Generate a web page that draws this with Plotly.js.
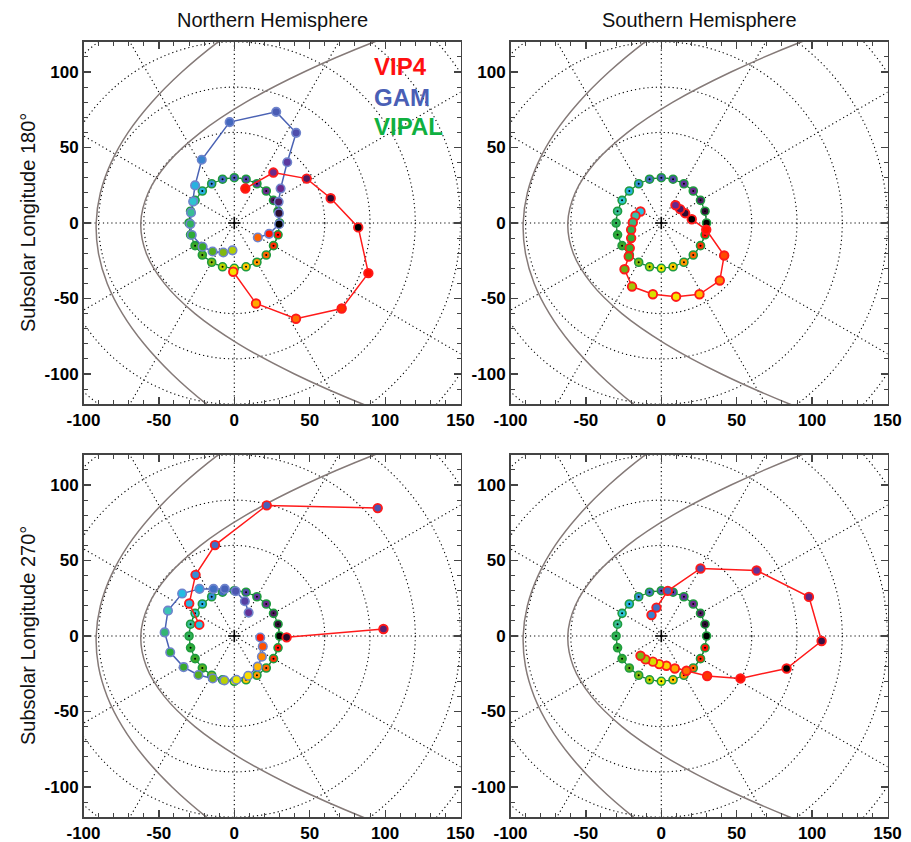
<!DOCTYPE html>
<html><head><meta charset="utf-8">
<script src="https://cdn.plot.ly/plotly-3.0.1.min.js"></script>
<style>html,body{margin:0;padding:0;background:#fff}#plot{width:911px;height:842px}</style>
</head><body><div id="plot"></div>
<script>
// ---------------- DATA ----------------
// VIPAL footprint ring (same ring in all four panels)
const vipalX   = [30, 29, 26, 21.2, 15, 7.8, 0, -7.8, -15, -21.2, -26, -29, -30, -29, -26, -21.2, -15, -7.8, 0, 7.8, 15, 21.2, 26, 29];
const vipalY   = [0, 7.8, 15, 21.2, 26, 29, 30, 29, 26, 21.2, 15, 7.8, 0, -7.8, -15, -21.2, -26, -29, -30, -29, -26, -21.2, -15, -7.8];
const vipalLon = [0, 15, 30, 45, 60, 75, 90, 105, 120, 135, 150, 165, 180, 195, 210, 225, 240, 255, 270, 285, 300, 315, 330, 345];

// Northern hemisphere, subsolar longitude 180
const n180Vip4X   = [7.3, 25.9, 48.0, 63.9, 82.2, 88.9, 71.2, 40.9, 14.4, -0.7];
const n180Vip4Y   = [22.8, 33.4, 29.4, 16.4, -2.9, -33.2, -56.6, -63.4, -53.3, -32.3];
const n180Vip4Lon = [340, 45, 30, 15, 0, 345, 330, 312, 295, 275];
const n180GamX    = [15.6, 23.1, 29.7, 29.6, 29.4, 30.7, 35.1, 41.0, 27.8, -3.1, -21.6, -26.0, -27.3, -28.7, -29.1, -28.2, -21.0, -14.4, -7.3, -1.2];
const n180GamY    = [-9.6, -7.2, -0.8, 6.5, 14.0, 22.8, 40.2, 59.7, 73.6, 66.8, 41.9, 24.9, 14.2, 6.8, -0.7, -7.9, -15.7, -18.9, -19.5, -18.1];
const n180GamLon  = [315, 340, 0, 15, 30, 45, 65, 80, 90, 100, 115, 135, 150, 165, 178, 192, 210, 225, 240, 252];

// Southern hemisphere, subsolar longitude 180
const s180Vip4X   = [-13.8, -17.1, -18.9, -20.0, -20.0, -20.9, -21.6, -24.4, -19.4, -5.6, 9.8, 25.3, 38.8, 41.7, 29.8, 20.2, 15.8, 12.5, 9.4];
const s180Vip4Y   = [7.6, 4.8, 0.3, -4.5, -10.0, -16.6, -22.2, -30.6, -42.1, -47.2, -48.8, -47.2, -38.1, -21.5, -4.5, 2.5, 6.5, 9.2, 11.8];
const s180Vip4Lon = [145, 160, 170, 182, 195, 208, 220, 232, 248, 262, 272, 288, 305, 322, 342, 0, 15, 30, 45];

// Northern hemisphere, subsolar longitude 270
const n270Vip4X   = [-23.2, -29.9, -25.7, -12.8, 21.5, 95.1, null, 98.9, 34.7];
const n270Vip4Y   = [7.5, 21.5, 40.5, 60.2, 86.5, 84.7, null, 4.6, -0.9];
const n270Vip4Lon = [145, 135, 120, 105, 95, 85, null, 35, 12];
const n270GamX    = [9.5, 7.0, 0.9, -6.3, -13.8, -23.1, -34.6, -44.0, -46.2, -42.5, -33.6, -23.8, -14.3, -6.6, 1.4, 9.2, 15.5, 18.3, 18.9, 17.2];
const n270GamY    = [15.5, 23.0, 29.6, 31.2, 31.2, 31.2, 28.1, 16.8, 2.4, -10.8, -20.6, -25.8, -28.1, -29.4, -29.0, -26.3, -20.3, -13.7, -6.9, -1.0];
const n270GamLon  = [55, 70, 85, 95, 105, 128, 140, 158, 172, 190, 208, 224, 238, 254, 266, 276, 290, 305, 320, 340];

// Southern hemisphere, subsolar longitude 270
const s270Vip4X   = [-6.5, -3.2, 4.3, 26.0, 63.2, 97.9, 106.3, 83.1, 52.5, 30.4, 16.7, 9.0, 3.4, -1.4, -5.6, -10.5, -13.8];
const s270Vip4Y   = [13.9, 18.8, 29.9, 44.7, 43.4, 25.9, -3.3, -21.5, -28.1, -26.5, -23.0, -21.5, -19.7, -18.6, -17.0, -15.5, -13.1];
const s270Vip4Lon = [115, 105, 95, 75, 55, 40, 20, 0, 345, 328, 312, 295, 280, 270, 262, 250, 238];

// Boundary curves (outer and inner)
const curveY  = [-140, -120, -100, -80, -60, -40, -20, 0, 20, 40, 60, 80, 100, 120, 140];
const outerX  = [8.8, -18.4, -41.3, -59.9, -74.2, -84.3, -90.1, -91.6, -88.8, -81.7, -70.4, -54.7, -34.8, -10.7, 17.8];
const innerX  = [139.4, 85.4, 39.9, 2.7, -26.1, -46.4, -58.4, -62.0, -57.1, -43.9, -22.3, 7.7, 46.2, 93.0, 148.2];

// Grid and ticks
const gridRadii  = [30, 60, 90, 120, 150, 180];
const gridAngles = [0, 30, 60, 90, 120, 150, 180, 210, 240, 270, 300, 330];
const xTicks = [-100, -50, 0, 50, 100, 150];
const xTickText = ['-100', '-50', '0', '50', '100', '150'];
const yTicks = [-100, -50, 0, 50, 100];
const yTickText = ['-100', '-50', '0', '50', '100'];

// ---------------- STYLE ----------------
const lonScale = [[0,'#000000'],[0.04,'#2c0c30'],[0.08,'#4c1a5e'],[0.125,'#6a2a8c'],[0.17,'#60349c'],[0.21,'#5048a8'],
  [0.25,'#4a5cb4'],[0.30,'#3f72c6'],[0.35,'#2f9edc'],[0.40,'#22c4e4'],[0.44,'#3cc4b4'],[0.48,'#34b470'],[0.52,'#2aac3c'],
  [0.60,'#3ea824'],[0.66,'#78b414'],[0.71,'#c0d400'],[0.75,'#f4ec00'],[0.79,'#ffc800'],[0.83,'#ff9c00'],[0.875,'#ff6400'],
  [0.92,'#ff2800'],[0.96,'#ff0c00'],[1,'#e00000']];

const RED = '#ff1a1a', BLUE = '#4a62b4', GREEN = '#1f9c3f', CURVE = '#857a78';

const panels = [
  {xa:'x',  ya:'y',  vip4:[n180Vip4X,n180Vip4Y,n180Vip4Lon], gam:[n180GamX,n180GamY,n180GamLon]},
  {xa:'x2', ya:'y2', vip4:[s180Vip4X,s180Vip4Y,s180Vip4Lon], gam:null},
  {xa:'x3', ya:'y3', vip4:[n270Vip4X,n270Vip4Y,n270Vip4Lon], gam:[n270GamX,n270GamY,n270GamLon]},
  {xa:'x4', ya:'y4', vip4:[s270Vip4X,s270Vip4Y,s270Vip4Lon], gam:null}
];

const traces = [];
const shapes = [];
const dotLine = {color:'#000', width:1.1, dash:'1.2px,3px'};

panels.forEach(p => {
  const xr = p.xa, yr = p.ya;
  gridRadii.forEach(r => shapes.push({type:'circle', xref:xr, yref:yr, x0:-r, x1:r, y0:-r, y1:r, line:dotLine, layer:'below'}));
  gridAngles.forEach(a => {
    const t = a*Math.PI/180;
    shapes.push({type:'line', xref:xr, yref:yr, x0:0, y0:0, x1:260*Math.cos(t), y1:260*Math.sin(t), line:dotLine, layer:'below'});
  });
  [outerX, innerX].forEach(cx => traces.push({type:'scatter', mode:'lines', x:cx, y:curveY, xaxis:xr, yaxis:yr,
    line:{color:CURVE, width:1.5, shape:'spline', smoothing:1}, hoverinfo:'skip', showlegend:false}));
  traces.push({type:'scatter', mode:'markers', x:[0], y:[0], xaxis:xr, yaxis:yr,
    marker:{symbol:'cross-thin', size:9, line:{color:'#000', width:1.6}}, showlegend:false});
  traces.push({type:'scatter', mode:'lines', x:vipalX.concat([vipalX[0]]), y:vipalY.concat([vipalY[0]]), xaxis:xr, yaxis:yr,
    line:{color:'#158a36', width:1.2}, showlegend:false});
  traces.push({type:'scatter', mode:'markers', x:vipalX, y:vipalY, xaxis:xr, yaxis:yr,
    marker:{size:8, color:vipalLon, colorscale:lonScale, cmin:0, cmax:360, line:{color:GREEN, width:1.6}}, showlegend:false});
  traces.push({type:'scatter', mode:'markers', x:vipalX, y:vipalY, xaxis:xr, yaxis:yr,
    marker:{size:2, color:'#000'}, showlegend:false});
  if (p.gam) {
    traces.push({type:'scatter', mode:'lines+markers', x:p.gam[0], y:p.gam[1], xaxis:xr, yaxis:yr,
      line:{color:BLUE, width:1.5},
      marker:{size:8.5, color:p.gam[2], colorscale:lonScale, cmin:0, cmax:360, line:{color:'#6f84cc', width:1.6}}, showlegend:false});
  }
  traces.push({type:'scatter', mode:'lines+markers', x:p.vip4[0], y:p.vip4[1], xaxis:xr, yaxis:yr, connectgaps:false,
    line:{color:RED, width:1.5},
    marker:{size:8.5, color:p.vip4[2], colorscale:lonScale, cmin:0, cmax:360, line:{color:RED, width:1.9}}, showlegend:false});
});

const FONT = 'Liberation Sans, Arial, Helvetica, sans-serif';
function common() {
  return {showgrid:false, zeroline:false, showline:true, mirror:'allticks', linecolor:'#444', linewidth:1.5,
    ticks:'inside', ticklen:7, tickwidth:1.2, tickcolor:'#444',
    minor:{dtick:10, tick0:0, ticks:'inside', ticklen:4, tickwidth:1, tickcolor:'#444'},
    tickfont:{family:FONT, size:17, color:'#000', weight:'bold'}, fixedrange:true};
}
function xaxis(dom, anchor) {
  return Object.assign(common(), {domain:dom, anchor:anchor, range:[-100,150], tickmode:'array', tickvals:xTicks, ticktext:xTickText});
}
function yaxis(dom, anchor) {
  return Object.assign(common(), {domain:dom, anchor:anchor, range:[-120,120], tickmode:'array', tickvals:yTicks, ticktext:yTickText});
}
const W = 911, H = 842;
const dxL = [83.5/W, 460.5/W], dxR = [510.5/W, 887.5/W];
const dyT = [1-404.2/H, 1-41.8/H], dyB = [1-817.2/H, 1-454.8/H];

const ann = [
  {text:'Northern Hemisphere', x:272/W, y:1-20/H, xref:'paper', yref:'paper', showarrow:false, xanchor:'center', yanchor:'middle', font:{family:FONT, size:20, color:'#111'}},
  {text:'Southern Hemisphere', x:699/W, y:1-20/H, xref:'paper', yref:'paper', showarrow:false, xanchor:'center', yanchor:'middle', font:{family:FONT, size:20, color:'#111'}},
  {text:'Subsolar Longitude 180°', x:28/W, y:1-223/H, xref:'paper', yref:'paper', showarrow:false, textangle:-90, xanchor:'center', yanchor:'middle', font:{family:FONT, size:20, color:'#111'}},
  {text:'Subsolar Longitude 270°', x:28/W, y:1-636/H, xref:'paper', yref:'paper', showarrow:false, textangle:-90, xanchor:'center', yanchor:'middle', font:{family:FONT, size:20, color:'#111'}},
  {text:'VIP4', x:372/W, y:1-66/H, xref:'paper', yref:'paper', showarrow:false, xanchor:'left', yanchor:'middle', font:{family:FONT, size:24, color:'#ff1010', weight:'bold'}},
  {text:'GAM', x:372/W, y:1-97/H, xref:'paper', yref:'paper', showarrow:false, xanchor:'left', yanchor:'middle', font:{family:FONT, size:24, color:'#4a5fb5', weight:'bold'}},
  {text:'VIPAL', x:372/W, y:1-126/H, xref:'paper', yref:'paper', showarrow:false, xanchor:'left', yanchor:'middle', font:{family:FONT, size:24, color:'#10b040', weight:'bold'}}
];

const layout = {
  width:W, height:H, margin:{l:0, r:0, t:0, b:0}, paper_bgcolor:'#fff', plot_bgcolor:'#fff', showlegend:false,
  xaxis:xaxis(dxL,'y'), yaxis:yaxis(dyT,'x'),
  xaxis2:xaxis(dxR,'y2'), yaxis2:yaxis(dyT,'x2'),
  xaxis3:xaxis(dxL,'y3'), yaxis3:yaxis(dyB,'x3'),
  xaxis4:xaxis(dxR,'y4'), yaxis4:yaxis(dyB,'x4'),
  shapes:shapes, annotations:ann
};
Plotly.newPlot('plot', traces, layout, {displayModeBar:false, staticPlot:true});
</script></body></html>
